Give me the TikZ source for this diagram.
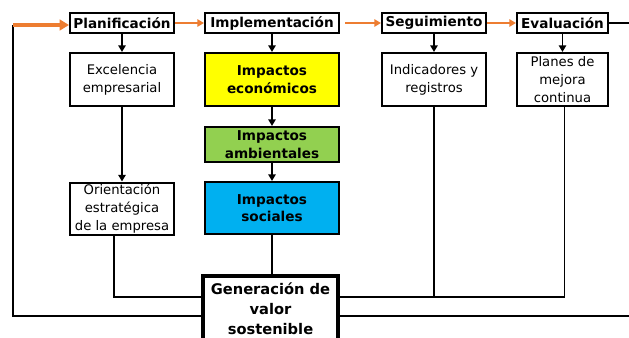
\documentclass[tikz,border=0pt]{standalone}
\usepackage{fontspec}
\setmainfont{DejaVu Sans}
\usetikzlibrary{arrows.meta}
\definecolor{naranja}{HTML}{ED7D31}
\definecolor{amarillo}{HTML}{FFFF00}
\definecolor{verde}{HTML}{92D050}
\definecolor{celeste}{HTML}{00B0F0}

\begin{document}
\begin{tikzpicture}[x=0.75pt,y=-0.75pt,
                etapa/.style={draw,line width=1.5pt,minimum height=15pt,inner sep=0pt,
                              font=\fontsize{10.2}{12}\selectfont\bfseries},
                caja/.style={draw,line width=1.5pt,inner sep=0pt,align=center,
                             font=\fontsize{9.9}{13.5}\selectfont},
                impacto/.style={caja,minimum width=100.5pt,font=\fontsize{10.2}{13}\selectfont\bfseries},
                enlace/.style={line width=1.3pt},
                flecha/.style={enlace,-{Triangle[length=5pt,width=5.5pt]}},
                avance/.style={naranja,line width=1.5pt,-{Triangle[length=5pt,width=5.5pt]}},
                retorno/.style={naranja,line width=2.6pt,-{Triangle[length=7pt,width=8pt]}}]
             \useasboundingbox (0,0) rectangle (629,337);
             % etapas
             \node[etapa,minimum width=78pt] (plan) at (122,23) {Planificación};
             \node[etapa,minimum width=100.5pt] (impl) at (272,23) {Implementación};
             \node[etapa,minimum width=78pt] (segu) at (434,23) {Seguimiento};
             \node[etapa,minimum width=68.25pt] (eval) at (562.5,23) {Evaluación};
             % cajas
             \node[caja,minimum width=78pt,minimum height=39.75pt] (exce) at (122,79.5) {Excelencia\\empresarial};
             \node[caja,minimum width=78pt,minimum height=39.75pt] (indi) at (434,79.5) {Indicadores y\\registros};
             \node[caja,minimum width=68.25pt,minimum height=39.75pt] (mejo) at (562.5,79.5) {Planes de\\mejora\\continua};
             \node[caja,minimum width=78pt,minimum height=39pt] (orie) at (122,208.5) {Orientación\\estratégica\\de la empresa};
             \node[impacto,fill=amarillo,minimum height=39.75pt] (econ) at (272,79.5) {Impactos\\económicos};
             \node[impacto,fill=verde,minimum height=26.25pt] (ambi) at (272,144.5) {Impactos\\ambientales};
             \node[impacto,fill=celeste,minimum height=39pt] (soci) at (272,208) {Impactos\\sociales};
             \node[caja,line width=2.4pt,minimum width=101.25pt,minimum height=49.5pt,
                   font=\fontsize{11}{15}\selectfont\bfseries] (gene) at (270.5,309) {Generación de\\valor\\sostenible};
             \coordinate (retA) at (13,25);
             \coordinate (retB) at (13,316);
             \coordinate (bordeA) at (629,23);
             \coordinate (bordeB) at (629,316);
             % flechas
             \draw[avance] (plan) -- (impl);
             \draw[avance,shorten <=4pt] (impl) -- (segu);
             \draw[avance] (segu) -- (eval);
             \draw[flecha] (plan) -- (exce);
             \draw[flecha] (impl) -- (econ);
             \draw[flecha] (segu) -- (indi);
             \draw[flecha] (eval) -- (mejo);
             \draw[flecha] (exce) -- (orie);
             \draw[flecha] (econ) -- (ambi);
             \draw[flecha] (ambi) -- (soci);
             \draw[enlace] (soci.south) -- (soci.south |- gene.north);
             \draw[enlace] ([xshift=-6pt]orie.south) |- ([yshift=9pt]gene.west);
             \draw[enlace] (indi.south) |- ([yshift=9pt]gene.east);
             \draw[enlace] ([xshift=1.5pt]mejo.south) |- ([yshift=9pt]gene.east);
             \draw[enlace] (eval.east) -- (bordeA);
             \draw[enlace] (gene.east |- bordeB) -- (bordeB);
             \draw[enlace] (gene.west |- retB) -- (retB) -- (retA);
             \draw[retorno] (retA) -- (plan.west |- retA);
\end{tikzpicture}
\end{document}
